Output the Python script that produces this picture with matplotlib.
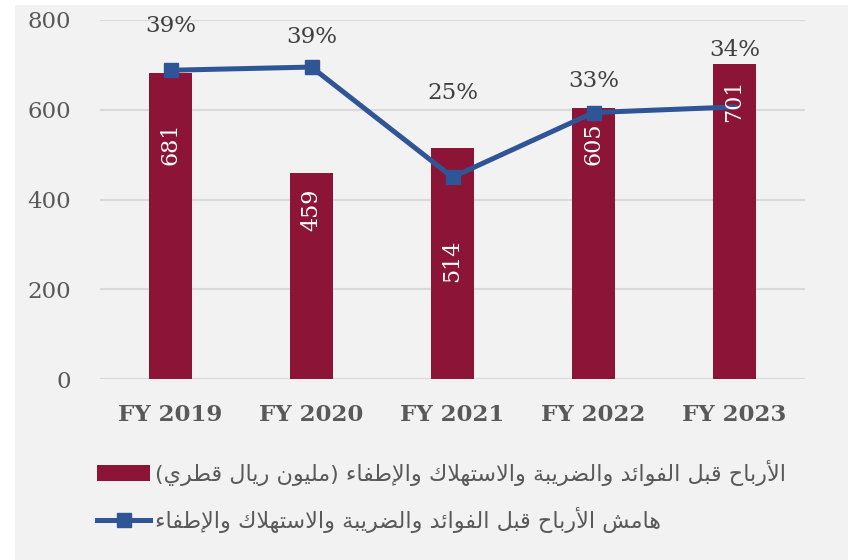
import matplotlib
matplotlib.use("Agg")
import matplotlib.pyplot as plt
from matplotlib.patches import Patch, Rectangle
from matplotlib.lines import Line2D

# ---------------- data ----------------
categories = ["FY 2019", "FY 2020", "FY 2021", "FY 2022", "FY 2023"]
ebitda = [681, 459, 514, 605, 701]                 # million QAR
margin = [38.7, 39.1, 25.3, 33.4, 34.1]            # percent
bar_label_y = [524, 377, 263, 524, 619]            # label centres (primary units)
pct_label_y = [787, 762, 637, 664, 733]            # label centres (primary units)
yticks = [0, 200, 400, 600, 800]
legend_bar = "الأرباح قبل الفوائد والضريبة والاستهلاك والإطفاء (مليون ريال قطري)"
legend_line = "هامش الأرباح قبل الفوائد والضريبة والاستهلاك والإطفاء"

# ------------- minimal Arabic shaping (presentation forms + RTL order) -------------
_dual = {'ئ': 0xFE89, 'ب': 0xFE8F, 'ت': 0xFE95, 'ث': 0xFE99, 'ج': 0xFE9D, 'ح': 0xFEA1,
         'خ': 0xFEA5, 'س': 0xFEB1, 'ش': 0xFEB5, 'ص': 0xFEB9, 'ض': 0xFEBD, 'ط': 0xFEC1,
         'ظ': 0xFEC5, 'ع': 0xFEC9, 'غ': 0xFECD, 'ف': 0xFED1, 'ق': 0xFED5, 'ك': 0xFED9,
         'ل': 0xFEDD, 'م': 0xFEE1, 'ن': 0xFEE5, 'ه': 0xFEE9, 'ي': 0xFEF1}
_right = {'آ': 0xFE81, 'أ': 0xFE83, 'ؤ': 0xFE85, 'إ': 0xFE87, 'ا': 0xFE8D, 'ة': 0xFE93,
          'د': 0xFEA9, 'ذ': 0xFEAB, 'ر': 0xFEAD, 'ز': 0xFEAF, 'و': 0xFEED}
_lamalef = {'آ': 0xFEF5, 'أ': 0xFEF7, 'إ': 0xFEF9, 'ا': 0xFEFB}


def shape_ar(s):
    toks = []
    i = 0
    while i < len(s):
        c = s[i]
        if c == 'ل' and i + 1 < len(s) and s[i + 1] in _lamalef:
            toks.append(('LA', s[i + 1]))
            i += 2
        else:
            toks.append(c)
            i += 1

    def joining(t):
        return isinstance(t, tuple) or t in _dual or t in _right

    def is_dual(t):
        return (not isinstance(t, tuple)) and t in _dual

    out = []
    for k, t in enumerate(toks):
        prev = toks[k - 1] if k > 0 else None
        nxt = toks[k + 1] if k + 1 < len(toks) else None
        jp = joining(t) and prev is not None and is_dual(prev)
        jn = is_dual(t) and nxt is not None and joining(nxt)
        if isinstance(t, tuple):
            out.append(chr(_lamalef[t[1]] + (1 if jp else 0)))
        elif t in _dual:
            base = _dual[t]
            if jp and jn:
                out.append(chr(base + 3))
            elif jp:
                out.append(chr(base + 1))
            elif jn:
                out.append(chr(base + 2))
            else:
                out.append(chr(base))
        elif t in _right:
            out.append(chr(_right[t] + (1 if jp else 0)))
        else:
            out.append(t)
    vis = ''.join(reversed(out))
    return vis.translate(str.maketrans({'(': ')', ')': '('}))


# ---------------- style ----------------
BAR = "#8C1436"
LINE = "#2F5597"
TXT = "#595959"
GRID = "#D9D9D9"
SERIF = "DejaVu Serif"

fig = plt.figure(figsize=(8.48, 5.6), dpi=100, facecolor="white")
fig.patches.append(Rectangle((15 / 848, 0), 1 - 15 / 848, 1 - 5 / 560,
                             transform=fig.transFigure, facecolor="#F2F2F2",
                             edgecolor="none", zorder=-10))

ax = fig.add_axes([100 / 848, 1 - 379 / 560, 705 / 848, 359 / 560])
ax.set_facecolor("none")
x = list(range(len(categories)))
ax.bar(x, ebitda, width=0.31, color=BAR, zorder=2)
ax.set_xlim(-0.5, len(categories) - 0.5)
ax.set_ylim(0, 800)
ax.set_yticks(yticks)
ax.set_yticklabels([str(v) for v in yticks], fontfamily=SERIF, fontsize=16.5, color=TXT)
ax.set_xticks(x)
ax.set_xticklabels(categories, fontfamily=SERIF, fontsize=16.5, fontweight="bold", color=TXT)
ax.tick_params(axis="both", length=0)
ax.tick_params(axis="y", pad=21)
ax.tick_params(axis="x", pad=18)
ax.yaxis.grid(True, color=GRID, linewidth=1.5, zorder=0)
ax.set_axisbelow(True)
for sp in ax.spines.values():
    sp.set_visible(False)

ax2 = ax.twinx()
ax2.set_ylim(0, 45)
ax2.plot(x, margin, color=LINE, linewidth=3.6, marker="s", markersize=10,
         markevery=list(range(len(x) - 1)), zorder=3)
ax2.axis("off")

for xi, v, ly in zip(x, ebitda, bar_label_y):
    ax2.text(xi, ly * 45 / 800, str(v), rotation=90, ha="center", va="center",
             color="white", fontfamily=SERIF, fontsize=16, zorder=5)
for xi, m, ly in zip(x, margin, pct_label_y):
    ax2.text(xi, ly * 45 / 800, f"{round(m)}%", ha="center", va="center",
             color="#404040", fontfamily=SERIF, fontsize=16.5, zorder=5)

handles = [Patch(facecolor=BAR, edgecolor="none"),
           Line2D([0], [0], color=LINE, linewidth=3.6, marker="s", markersize=10)]
fig.legend(handles, [shape_ar(legend_bar), shape_ar(legend_line)],
           loc="upper left", bbox_to_anchor=(77 / 848, 1 - 440 / 560),
           frameon=False, prop={"family": "DejaVu Sans", "size": 16},
           labelcolor=TXT, handlelength=2.4, handleheight=0.7,
           handletextpad=0.2, labelspacing=0.95)

fig.savefig("out.png", dpi=100, facecolor=fig.get_facecolor())
